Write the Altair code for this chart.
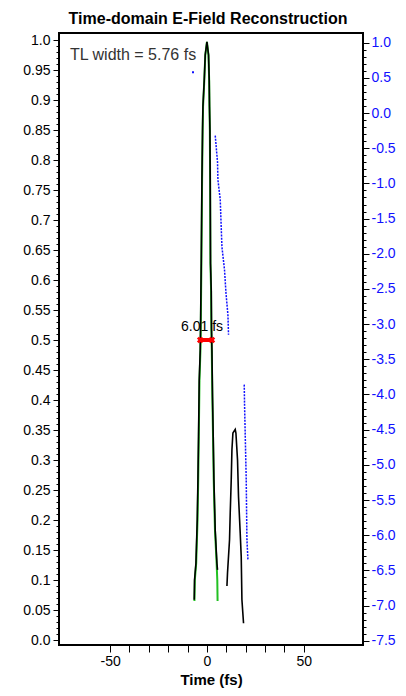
import altair as alt
import pandas as pd

FONT = "Liberation Sans"

# ---- reconstructed intensity (black), main pulse ----
main_t = [-6.56, -6.40, -5.68, -5.01, -4.65, -4.34, -3.98, -3.46, -3.30, -3.10, -2.94,
          -2.58, -2.27, -2.07, -1.39, -0.88, 0.00, 0.83, 1.19, 1.34, 1.55, 1.70, 1.86,
          2.22, 2.37, 2.58, 2.89, 3.25, 3.61, 4.28, 5.16, 5.47]
main_i = [0.067, 0.100, 0.128, 0.200, 0.267, 0.339, 0.433, 0.483, 0.517, 0.583, 0.628,
          0.767, 0.850, 0.889, 0.933, 0.975, 0.997, 0.975, 0.933, 0.889, 0.850, 0.767, 0.628,
          0.583, 0.517, 0.483, 0.405, 0.339, 0.267, 0.183, 0.128, 0.117]
# ---- reconstructed intensity (black), satellite pulse ----
sat_t = [10.33, 10.63, 11.67, 12.03, 12.55, 12.91, 13.42, 14.61, 14.97, 15.80, 16.31,
         17.19, 17.71, 18.07, 18.90]
sat_i = [0.090, 0.112, 0.167, 0.212, 0.267, 0.317, 0.345, 0.351, 0.345, 0.300, 0.239,
         0.178, 0.139, 0.067, 0.028]
# ---- transform-limited intensity (green) ----
tl_t = [-6.45, -6.25, -5.55, -4.85, -4.50, -4.20, -3.85, -3.35, -3.20, -3.00, -2.85,
        -2.50, -2.20, -2.00, -1.35, -0.85, 0.00, 0.80, 1.15, 1.30, 1.50, 1.65, 1.80,
        2.15, 2.30, 2.50, 2.80, 3.15, 3.50, 4.15, 5.00, 5.35, 5.50]
tl_i = [0.065, 0.100, 0.128, 0.200, 0.267, 0.339, 0.433, 0.483, 0.517, 0.583, 0.628,
        0.767, 0.850, 0.889, 0.933, 0.975, 0.997, 0.975, 0.933, 0.889, 0.850, 0.767, 0.628,
        0.583, 0.517, 0.483, 0.405, 0.339, 0.267, 0.183, 0.128, 0.100, 0.065]
# ---- temporal phase (blue, right axis) ----
ph0_t = [-7.2]
ph0_v = [0.58]
ph1_t = [4.29, 5.47, 5.68, 6.87, 7.74, 9.08, 9.81, 10.84, 11.15]
ph1_v = [-0.32, -0.70, -0.95, -1.23, -1.90, -2.23, -2.55, -2.87, -3.15]
ph2_t = [19.26, 19.41, 20.29, 20.65, 21.17]
ph2_v = [-3.86, -4.12, -5.21, -6.06, -6.35]

# ---- annotations ----
fwhm_left = -3.45
fwhm_right = 2.56
fwhm_level = 0.5
fwhm_label = "6.01 fs"
tl_label = "TL width = 5.76 fs"
title_text = "Time-domain E-Field Reconstruction"
x_title = "Time (fs)"

x_domain = [-76.4, 80.6]
y_domain = [-0.0083, 1.0117]
p_domain = [-7.561, 1.138]
x_ticks = list(range(-50, 51, 10))
y_ticks = [round(i * 0.01, 2) for i in range(101)]
p_ticks = [round(-7.5 + i * 0.1, 1) for i in range(86)]

BLUE = "#1010ff"

xscale = alt.Scale(domain=x_domain, nice=False, zero=False)
xaxis = alt.Axis(values=x_ticks, title=x_title, tickSize=7, labelPadding=2,
                 titleY=39, titleBaseline="alphabetic", titleFontSize=15,
                 labelFlush=False, labelOverlap=False,
                 labelExpr="datum.value % 50 == 0 ? (datum.value < 0 ? '-' : '') + format(abs(datum.value), 'd') : ''")
yscale = alt.Scale(domain=y_domain, nice=False, zero=False)
yaxis = alt.Axis(values=y_ticks, title=None, orient="left", labelPadding=3,
                 labelFlush=False, labelOverlap=False,
                 tickSize={"expr": "abs(datum.value*20 - round(datum.value*20)) < 0.001 ? 6 : 3"},
                 labelExpr="abs(datum.value*20 - round(datum.value*20)) < 0.001 ? (abs(datum.value*10 - round(datum.value*10)) < 0.001 ? format(datum.value, '.1f') : format(datum.value, '.2f')) : ''")
pscale = alt.Scale(domain=p_domain, nice=False, zero=False)
paxis = alt.Axis(values=p_ticks, title=None, orient="right", labelPadding=2,
                 labelFlush=False, labelOverlap=False, labelColor=BLUE,
                 tickSize={"expr": "abs(datum.value*2 - round(datum.value*2)) < 0.001 ? 6 : 3"},
                 labelExpr="abs(datum.value*2 - round(datum.value*2)) < 0.001 ? (datum.value < -0.001 ? '-' : '') + format(abs(datum.value), '.1f') : ''")


def X(field):
    return alt.X(field, type="quantitative", scale=xscale, axis=xaxis)


def Y(field):
    return alt.Y(field, type="quantitative", scale=yscale, axis=yaxis)


def P(field):
    return alt.Y(field, type="quantitative", scale=pscale, axis=paxis)


black_df = pd.DataFrame({
    "t": main_t + sat_t,
    "I": main_i + sat_i,
    "seg": [0] * len(main_t) + [1] * len(sat_t),
    "o": list(range(len(main_t) + len(sat_t))),
})
tl_df = pd.DataFrame({"t": tl_t, "I": tl_i, "o": list(range(len(tl_t)))})
ph_df = pd.DataFrame({
    "t": ph1_t + ph2_t,
    "p": ph1_v + ph2_v,
    "seg": [1] * len(ph1_t) + [2] * len(ph2_t),
    "o": list(range(len(ph1_t) + len(ph2_t))),
})
ph0_df = pd.DataFrame({"t": ph0_t, "p": ph0_v})
fwhm_df = pd.DataFrame({"t": [fwhm_left], "t2": [fwhm_right], "I": [fwhm_level]})
ends_df = pd.DataFrame({"t": [fwhm_left, fwhm_right], "I": [fwhm_level, fwhm_level]})
lab_df = pd.DataFrame({"t": [(fwhm_left + fwhm_right) / 2], "I": [fwhm_level], "txt": [fwhm_label]})
tl_lab_df = pd.DataFrame({"txt": [tl_label]})

green = alt.Chart(tl_df).mark_line(color="#22c022", strokeWidth=2).encode(
    x=X("t"), y=Y("I"), order="o:Q")
black = alt.Chart(black_df).mark_line(color="black", strokeWidth=1.6).encode(
    x=X("t"), y=Y("I"), detail="seg:N", order="o:Q")
bar = alt.Chart(fwhm_df).mark_rule(color="red", strokeWidth=4).encode(
    x=X("t"), x2="t2:Q", y=Y("I"))
ends = alt.Chart(ends_df).mark_point(shape="cross", angle=45, filled=True, size=45,
                                     color="red", opacity=1).encode(x=X("t"), y=Y("I"))
lab = alt.Chart(lab_df).mark_text(font=FONT, fontSize=14, baseline="bottom", dy=-6, dx=-4,
                                  color="black").encode(x=X("t"), y=Y("I"), text="txt:N")
tl_lab = alt.Chart(tl_lab_df).mark_text(font=FONT, fontSize=16, align="left",
                                        baseline="alphabetic", color="#333333").encode(
    x=alt.value(11), y=alt.value(27), text="txt:N")

phase = alt.Chart(ph_df).mark_line(color=BLUE, strokeWidth=1.5, strokeDash=[2, 1.2]).encode(
    x=X("t"), y=P("p"), detail="seg:N", order="o:Q")
phase0 = alt.Chart(ph0_df).mark_square(color=BLUE, size=4, opacity=1).encode(
    x=X("t"), y=P("p"))

left_layer = alt.layer(green, black, bar, ends, lab, tl_lab)
right_layer = alt.layer(phase, phase0)

chart = alt.layer(left_layer, right_layer).resolve_scale(y="independent").properties(
    width=304, height=612,
    autosize=alt.AutoSizeParams(type="none"),
    padding={"left": 51, "top": 25, "right": 35, "bottom": 43},
    title=alt.TitleParams(title_text, font=FONT, fontSize=16, fontWeight="bold",
                          anchor="middle", offset=6, dx=-3, color="black"),
).configure_view(stroke="black", strokeWidth=2).configure_axis(
    labelFont=FONT, labelFontSize=14, titleFont=FONT, titleFontSize=16,
    titleFontWeight="bold", titleColor="black", domain=False, grid=False,
    tickColor="black", labelColor="black",
)

chart.save("out.html", embed_options={"renderer": "svg", "actions": False})
